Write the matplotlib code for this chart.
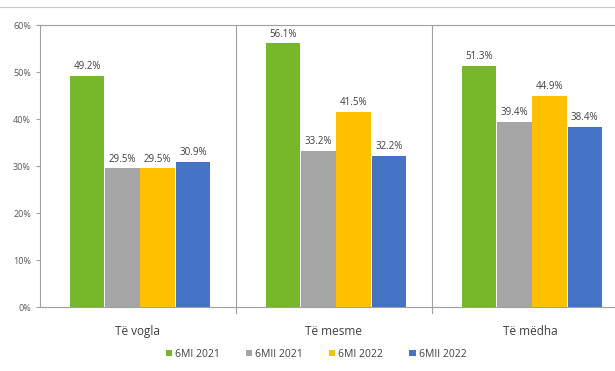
import matplotlib.pyplot as plt
import numpy as np

categories = ['Të vogla', 'Të mesme', 'Të mëdha']
series = ['6MI 2021', '6MII 2021', '6MI 2022', '6MII 2022']
v_6mi_2021 = [49.2, 56.1, 51.3]
v_6mii_2021 = [29.5, 33.2, 39.4]
v_6mi_2022 = [29.5, 41.5, 44.9]
v_6mii_2022 = [30.9, 32.2, 38.4]
colors = ['#76B82A', '#A5A5A5', '#FFC000', '#4472C4']

plt.rcParams['font.family'] = ['Open Sans', 'DejaVu Sans']

fig = plt.figure(figsize=(6.15, 3.71), dpi=100)
ax = fig.add_axes([0.065, 0.1725, 0.935, 0.76])

x = np.arange(len(categories))
w = 0.176
offsets = [-0.26, -0.08, 0.10, 0.28]
for vals, off, c, name in zip([v_6mi_2021, v_6mii_2021, v_6mi_2022, v_6mii_2022],
                              offsets, colors, series):
    bars = ax.bar(x + off, vals, w, color=c, label=name)
    for b, v in zip(bars, vals):
        ax.text(b.get_x() + b.get_width() / 2, v + 0.8, f'{v:.1f}%',
                ha='center', va='bottom', fontsize=7, color='#404040')

ax.set_ylim(0, 60)
ax.set_xlim(-0.5, 2.434)
ax.set_yticks(range(0, 61, 10))
ax.set_yticklabels([f'{t}%' for t in range(0, 61, 10)], fontsize=6.5, color='#595959')
ax.set_xticks(x)
ax.set_xticklabels(categories, fontsize=8.5, color='#404040')
ax.tick_params(axis='x', length=0, pad=13)
ax.tick_params(axis='y', length=3, color='#A0A0A0', direction='out')

for s in ['left', 'bottom', 'top']:
    ax.spines[s].set_color('#A0A0A0')
    ax.spines[s].set_linewidth(0.8)
ax.spines['right'].set_visible(False)
for xb in [0.5, 1.5]:
    ax.axvline(xb, ymin=-0.02, ymax=1, color='#A0A0A0', lw=0.8, clip_on=False)

ax.legend(loc='upper center', bbox_to_anchor=(0.48, -0.115), ncol=4, frameon=False,
          fontsize=7.5, handlelength=0.6, handleheight=0.6, columnspacing=2.5,
          handletextpad=0.3, labelcolor='#404040')

fig.add_artist(plt.Line2D([0, 1], [0.98, 0.98], color='#C8C8C8', lw=0.8))

fig.savefig('out.png', dpi=100)
